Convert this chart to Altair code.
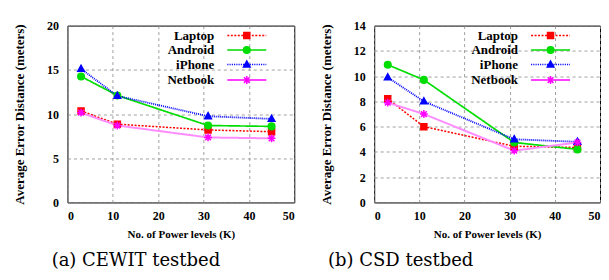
import altair as alt
import pandas as pd

# ---------------- data ----------------
x_levels = [3, 11, 31, 45]
series = ["Laptop", "Android", "iPhone", "Netbook"]

cewit_laptop = [10.35, 8.85, 8.2, 8.0]
cewit_android = [14.25, 12.1, 8.7, 8.6]
cewit_iphone = [15.1, 12.05, 9.75, 9.45]
cewit_netbook = [10.15, 8.7, 7.35, 7.25]

csd_laptop = [8.2, 6.0, 4.45, 4.35]
csd_android = [10.9, 9.7, 4.75, 4.2]
csd_iphone = [9.9, 8.0, 5.0, 4.8]
csd_netbook = [7.9, 7.0, 4.1, 4.75]

x_title = "No. of Power levels (K)"
y_title = "Average Error Distance (meters)"
captions = ["(a) CEWIT testbed", "(b) CSD testbed"]

# ---------------- styles ----------------
line_colors = ["#ff0000", "#00dd00", "#0000ff", "#ff8cff"]
marker_colors = ["#ff0000", "#00dd00", "#0000ff", "#ff00ff"]
dashes = [[2, 1.5], [1, 0], [1, 1], [1, 0]]
widths = [1.5, 2, 1.5, 2]

marker_paths = [
    "M-1,-1H1V1H-1Z",
    "M-1.1,0A1.1,1.1 0 1,0 1.1,0A1.1,1.1 0 1,0 -1.1,0Z",
    "M0,-1.2L1.1,0.8L-1.1,0.8Z",
    "M-1.3,0H1.3M0,-1.3V1.3M-0.95,-0.95L0.95,0.95M-0.95,0.95L0.95,-0.95",
]


def dotted(seg, step, half=3.9):
    parts = []
    x = -half
    while x < half:
        parts.append("M%.2f,0H%.2f" % (x, min(x + seg, half)))
        x += step
    return "".join(parts)


legend_lines = [dotted(0.4, 0.7), "M-3.9,0H3.9", dotted(0.22, 0.45), "M-3.9,0H3.9"]
legend_marks = [
    "M-0.6,-0.6H0.6V0.6H-0.6Z",
    "M-0.66,0A0.66,0.66 0 1,0 0.66,0A0.66,0.66 0 1,0 -0.66,0Z",
    "M0,-0.7L0.66,0.5L-0.66,0.5Z",
    "M-0.8,0H0.8M0,-0.8V0.8M-0.57,-0.57L0.57,0.57M-0.57,0.57L0.57,-0.57",
]
legend_paths = [l + m for l, m in zip(legend_lines, legend_marks)]

SERIF = "Liberation Serif"


def panel(vals, ymax, ystep, caption, cap_dx, legx, w):
    rows = []
    for s, v in zip(series, vals):
        for xx, yy in zip(x_levels, v):
            rows.append({"K": xx, "err": yy, "series": s})
    df = pd.DataFrame(rows)
    base = alt.Chart(df)
    xenc = alt.X(
        "K:Q",
        scale=alt.Scale(domain=[0, 50], nice=False),
        axis=alt.Axis(values=list(range(0, 51, 10)), title=x_title,
                      titleFontSize=11, labelPadding=8, titlePadding=7),
    )
    yenc = alt.Y(
        "err:Q",
        scale=alt.Scale(domain=[0, ymax], nice=False),
        axis=alt.Axis(values=list(range(0, ymax + 1, ystep)), title=y_title,
                      titleFontSize=13, labelPadding=9, titlePadding=20),
    )
    leg = alt.Legend(
        title=None, orient="none", legendX=legx, legendY=3.5,
        symbolSize=100, labelOffset={"expr": "-39"}, labelAlign="right",
        labelFont=SERIF, labelFontSize=13, labelFontWeight="bold",
        labelColor="black", rowPadding=0.5, padding=0, symbolStrokeWidth=1.5,
    )
    lines = base.mark_line().encode(
        x=xenc, y=yenc,
        color=alt.Color("series:N", scale=alt.Scale(domain=series, range=line_colors), legend=None),
        strokeDash=alt.StrokeDash("series:N", scale=alt.Scale(domain=series, range=dashes), legend=None),
        strokeWidth=alt.StrokeWidth("series:O", scale=alt.Scale(domain=series, range=widths), legend=None),
    )
    layers = [lines]
    for s, mp, mc in zip(series, marker_paths, marker_colors):
        layers.append(
            base.transform_filter(alt.datum.series == s)
            .mark_point(shape=mp, filled=True, fill=mc, stroke=mc, size=36,
                        strokeWidth=1.5, opacity=1)
            .encode(x=xenc, y=yenc)
        )
    legend_layer = base.mark_point(
        filled=True, opacity=1, size=0
    ).encode(
        x=xenc, y=yenc,
        fill=alt.Fill("series:N", scale=alt.Scale(domain=series, range=marker_colors), legend=leg),
        stroke=alt.Stroke("series:N", scale=alt.Scale(domain=series, range=marker_colors), legend=leg),
        shape=alt.Shape("series:N", scale=alt.Scale(domain=series, range=legend_paths), legend=leg),
    )
    layers.append(legend_layer)
    return alt.layer(*layers).properties(
        width=w, height=177,
        title=alt.Title(caption, orient="bottom", font="DejaVu Serif", fontSize=18,
                        fontWeight="normal", anchor="middle", frame="group",
                        dx=cap_dx, offset=13, color="black"),
    )


left = panel([cewit_laptop, cewit_android, cewit_iphone, cewit_netbook], 20, 5,
             captions[0], -45, 173, 227)
right = panel([csd_laptop, csd_android, csd_iphone, csd_netbook], 14, 2,
              captions[1], -86.5, 170, 226)

chart = alt.hconcat(left, right, spacing=24).properties(
    padding={"left": 4.5, "top": 10.5, "right": 0, "bottom": 0},
).resolve_legend(fill="independent", stroke="independent", shape="independent").configure_view(
    stroke="black", strokeWidth=1,
).configure_axis(
    labelFont=SERIF, labelFontWeight="bold", labelFontSize=12, labelColor="black",
    titleFont=SERIF, titleFontWeight="bold", titleColor="black",
    grid=True, gridColor="#888888", gridDash=[3, 3], gridWidth=0.8,
    ticks=False, domain=False,
)

chart.save("out.html", embed_options={"renderer": "svg", "actions": False})
